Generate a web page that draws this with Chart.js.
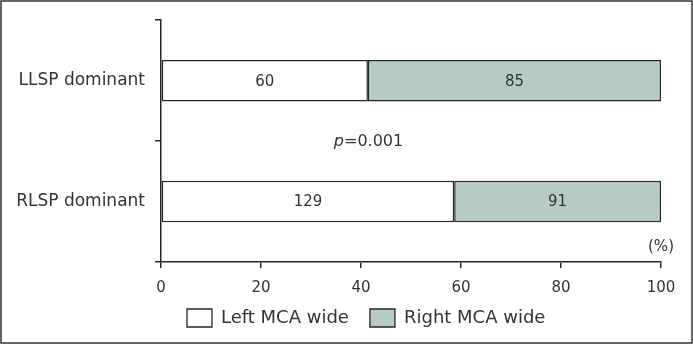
<!DOCTYPE html>
<html>
<head>
<meta charset="utf-8">
<script src="https://cdn.jsdelivr.net/npm/chart.js@4"></script>
<style>
  html, body { margin: 0; padding: 0; background: #fff; }
  #wrap { width: 693px; height: 344px; position: relative; }
</style>
</head>
<body>
<div id="wrap"><canvas id="chart" width="693" height="344"></canvas></div>
<script>
// Groups and counts
const groups = ['LLSP dominant', 'RLSP dominant'];
const leftWide = [60, 129];
const rightWide = [85, 91];
const xTicks = [0, 20, 40, 60, 80, 100];
const pText = '=0.001';

const INK = '#262626';
const TEXT = '#333333';
const FONT = 'DejaVu Sans';
const LEGEND_PAD = 21;

// bar length is the share of each row in percent
const totals = groups.map((g, i) => leftWide[i] + rightWide[i]);
const leftPct = leftWide.map((v, i) => v / totals[i] * 100);
const rightPct = rightWide.map((v, i) => v / totals[i] * 100);

// Frame around the whole figure, and legend placement
const framePlugin = {
  id: 'frame',
  afterLayout(chart) {
    const lg = chart.legend;
    const dx = 187 - LEGEND_PAD - lg.left;
    const dy = 309 - LEGEND_PAD - lg.top;
    lg.left += dx;
    lg.right += dx;
    lg.top += dy;
    lg.bottom += dy;
  },
  beforeDraw(chart) {
    const ctx = chart.ctx;
    ctx.save();
    ctx.fillStyle = '#fff';
    ctx.fillRect(0, 0, chart.width, chart.height);
    ctx.strokeStyle = '#333';
    ctx.lineWidth = 1.5;
    ctx.strokeRect(1, 1, chart.width - 2, chart.height - 2);
    ctx.restore();
  }
};

// Counts inside bars, p value and the (%) unit
const labelPlugin = {
  id: 'labels',
  afterDatasetsDraw(chart) {
    const ctx = chart.ctx;
    const counts = [leftWide, rightWide];
    ctx.save();
    ctx.fillStyle = TEXT;
    ctx.font = '15px "' + FONT + '"';
    ctx.textAlign = 'center';
    ctx.textBaseline = 'middle';
    chart.data.datasets.forEach((ds, di) => {
      chart.getDatasetMeta(di).data.forEach((bar, i) => {
        const p = bar.getProps(['x', 'base', 'y'], true);
        ctx.fillText(String(counts[di][i]), (p.x + p.base) / 2, p.y + 1);
      });
    });

    const xs = chart.scales.x, ys = chart.scales.y;
    const py = (ys.getPixelForValue(0) + ys.getPixelForValue(1)) / 2;
    const px = xs.getPixelForValue(41.5);
    ctx.font = 'italic 16px "' + FONT + '"';
    const wP = ctx.measureText('p').width;
    ctx.font = '16px "' + FONT + '"';
    const wR = ctx.measureText(pText).width;
    const start = px - (wP + wR) / 2;
    ctx.textAlign = 'left';
    ctx.font = 'italic 16px "' + FONT + '"';
    ctx.fillText('p', start, py + 1);
    ctx.font = '16px "' + FONT + '"';
    ctx.fillText(pText, start + wP, py + 1);

    ctx.font = '15px "' + FONT + '"';
    ctx.textAlign = 'center';
    ctx.fillText('(%)', xs.getPixelForValue(100), chart.chartArea.bottom - 15);
    ctx.restore();
  }
};

new Chart(document.getElementById('chart'), {
  type: 'bar',
  data: {
    labels: groups,
    datasets: [{
      label: 'Left MCA wide',
      data: leftPct,
      backgroundColor: '#ffffff',
      borderColor: INK,
      borderWidth: 1.5,
      borderSkipped: false
    }, {
      label: 'Right MCA wide',
      data: rightPct,
      backgroundColor: '#b6cbc2',
      borderColor: INK,
      borderWidth: 1.5,
      borderSkipped: false
    }]
  },
  options: {
    indexAxis: 'y',
    responsive: false,
    animation: false,
    layout: { padding: { top: 17, right: 32, left: 0, bottom: 0 } },
    plugins: {
      tooltip: { enabled: false },
      legend: {
        position: 'bottom',
        align: 'start',
        labels: {
          color: TEXT,
          font: { family: FONT, size: 18 },
          boxWidth: 25,
          boxHeight: 18,
          padding: LEGEND_PAD,
          generateLabels(chart) {
            return chart.data.datasets.map((ds, i) => ({
              text: ds.label,
              fillStyle: ds.backgroundColor,
              strokeStyle: INK,
              lineWidth: 1.3,
              fontColor: TEXT,
              datasetIndex: i
            }));
          }
        }
      }
    },
    scales: {
      x: {
        stacked: true,
        min: 0,
        max: 100,
        afterBuildTicks(axis) {
          axis.ticks = xTicks.map(v => ({ value: v }));
        },
        afterFit(axis) { axis.height = 33; },
        border: { color: INK, width: 1.5 },
        grid: { drawOnChartArea: false, drawTicks: true, tickLength: 6, color: INK, lineWidth: 1.5 },
        ticks: { color: TEXT, font: { family: FONT, size: 15 }, padding: 11 }
      },
      y: {
        stacked: true,
        afterFit(axis) { axis.width = 161; },
        border: { color: INK, width: 1.5 },
        grid: { offset: true, drawOnChartArea: false, drawTicks: true, tickLength: 6, color: INK, lineWidth: 1.5 },
        ticks: { color: TEXT, font: { family: FONT, size: 17 }, padding: 10 }
      }
    },
    datasets: {
      bar: { barPercentage: 0.343, categoryPercentage: 1 }
    }
  },
  plugins: [framePlugin, labelPlugin]
});
</script>
</body>
</html>
